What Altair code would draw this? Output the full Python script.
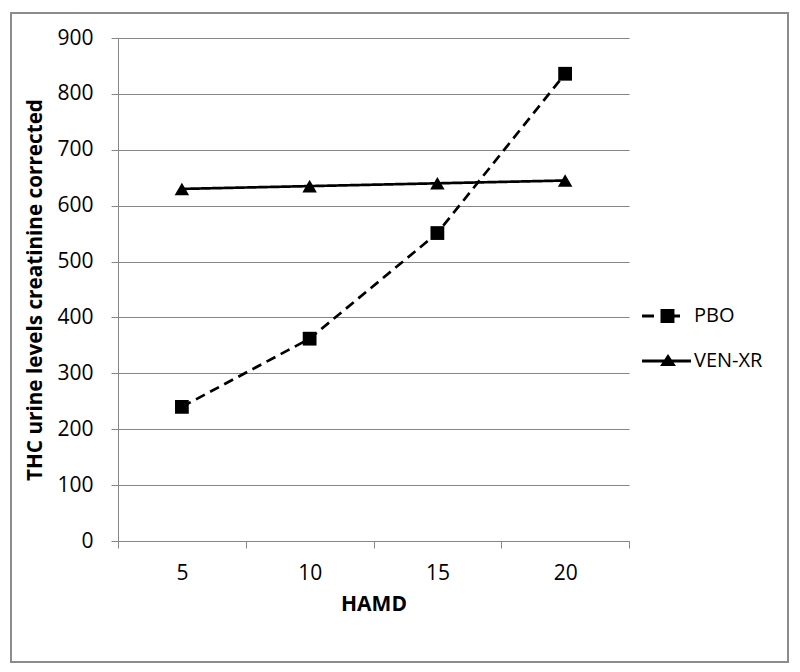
import altair as alt
import pandas as pd

hamd = [5, 10, 15, 20]
pbo = [240, 362, 551, 836]
ven_xr = [630, 635, 640, 645]
series_names = ["PBO", "VEN-XR"]
y_ticks = [0, 100, 200, 300, 400, 500, 600, 700, 800, 900]
x_ticks = [2.5, 5, 7.5, 10, 12.5, 15, 17.5, 20, 22.5]

rows = []
for h, v in zip(hamd, pbo):
    rows.append({"HAMD": h, "value": v, "series": "PBO"})
for h, v in zip(hamd, ven_xr):
    rows.append({"HAMD": h, "value": v, "series": "VEN-XR"})
df = pd.DataFrame(rows)

FONT = "Open Sans"
GRAY = "#868686"

x_enc = alt.X(
    "HAMD:Q",
    scale=alt.Scale(domain=[2.5, 22.5], nice=False, zero=False),
    axis=alt.Axis(
        values=x_ticks,
        labelExpr="datum.value % 5 == 0 ? datum.label : ''",
        tickOpacity={"condition": {"test": "datum.value % 5 != 0", "value": 1}, "value": 0},
        title="HAMD",
        grid=False,
        tickSize=7,
        labelPadding=14,
        titlePadding=10,
    ),
)
y_enc = alt.Y(
    "value:Q",
    scale=alt.Scale(domain=[0, 900], nice=False),
    axis=alt.Axis(
        values=y_ticks,
        title="THC urine levels creatinine corrected",
        grid=True,
        tickSize=7,
        labelPadding=18,
        titlePadding=11,
        titleFontSize=20.7,
    ),
)

frame = alt.Chart(alt.Data(values=[{}])).mark_rect(
    fill="white", fillOpacity=0, stroke="#8c8c8c", strokeWidth=2
).encode(
    x=alt.value(-107), x2=alt.value(670), y=alt.value(-25), y2=alt.value(624)
)

lines = alt.Chart(df).mark_line(color="black", strokeWidth=2.7).encode(
    x=x_enc,
    y=y_enc,
    strokeDash=alt.StrokeDash(
        "series:N",
        scale=alt.Scale(domain=series_names, range=[[10, 6], [1, 0]]),
        legend=None,
    ),
)

points = alt.Chart(df).mark_point(filled=True, color="black", opacity=1).encode(
    x=x_enc,
    y=y_enc,
    shape=alt.Shape(
        "series:N",
        scale=alt.Scale(domain=series_names, range=["square", "triangle-up"]),
        legend=None,
    ),
    size=alt.Size(
        "series:N",
        scale=alt.Scale(domain=series_names, range=[190, 210]),
        legend=None,
    ),
)

pbo_path = ("M-1.73,-0.1H-0.93V0.1H-1.73Z "
            "M-0.5,-0.47H0.43V0.47H-0.5Z "
            "M0.43,-0.1H0.8V0.1H0.43Z")
ven_path = ("M-1.73,-0.1H1.53V0.1H-1.73Z "
            "M-0.53,0.33L0,-0.47L0.53,0.33Z")

legend_layer = alt.Chart(df).mark_point(filled=True, color="black", opacity=1).encode(
    x=x_enc,
    y=y_enc,
    shape=alt.Shape(
        "series:N",
        scale=alt.Scale(domain=series_names, range=[pbo_path, ven_path]),
        legend=alt.Legend(
            title=None,
            orient="none",
            legendX=535,
            legendY=263,
            symbolSize=900,
            symbolFillColor="black",
            symbolStrokeColor="black",
            symbolStrokeWidth=0,
            labelFontSize=20,
            labelFont=FONT,
            labelColor="black",
            labelOffset=11,
            rowPadding=20,
        ),
    ),
).transform_filter("false")

chart = alt.layer(frame, lines, points, legend_layer).resolve_scale(
    shape="independent"
).properties(
    width=511,
    height=503,
    padding={"left": 2, "top": 4, "right": 0, "bottom": 0},
).configure_view(
    stroke=None
).configure_axis(
    domainColor=GRAY,
    tickColor=GRAY,
    gridColor=GRAY,
    domainWidth=1,
    gridWidth=1,
    tickWidth=1,
    labelFont=FONT,
    labelFontSize=21,
    labelColor="black",
    titleFont=FONT,
    titleFontSize=21,
    titleFontWeight="bold",
    titleColor="black",
)

chart.save("out.html", embed_options={"renderer": "svg", "actions": False})
